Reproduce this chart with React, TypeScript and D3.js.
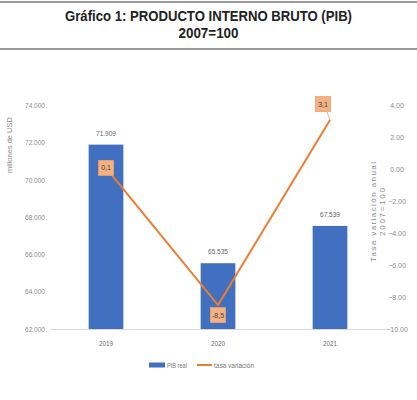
import React from "react";
import * as d3 from "d3";

const years = ["2019", "2020", "2021"];
const pibReal = [71909, 65535, 67539];
const tasaVariacion = [0.1, -8.5, 3.1];
const leftTicks = [62000, 64000, 66000, 68000, 70000, 72000, 74000];
const rightTicks = [-10, -8, -6, -4, -2, 0, 2, 4];
const pibLabels = ["71.909", "65.535", "67.539"];
const tasaLabels = ["0,1", "-8,5", "3,1"];

const W = 417;
const H = 400;
const FONT = "'Liberation Sans Narrow', 'Liberation Sans', Arial, sans-serif";
const BLUE = "#4170c0";
const ORANGE = "#ed7d31";

export default function App() {
  const x = d3.scaleBand<string>().domain(years).range([50, 386]).paddingInner(0.69).paddingOuter(0.345);
  const yL = d3.scaleLinear().domain([62000, 74000]).range([329, 105.7]);
  const yR = d3.scaleLinear().domain([-10, 4]).range([329, 105.7]);
  const fmtL = (v: number) => d3.format(".3f")(v / 1000);
  const fmtR = (v: number) => d3.format(".2f")(v);
  const cx = (y: string) => (x(y) as number) + x.bandwidth() / 2;
  const line = d3
    .line<number>()
    .x((_, i) => cx(years[i]))
    .y((d) => yR(d));

  const tasaLabelDy = [0, 10, -16];
  const tasaLabelDx = [0, 0, -7];

  return (
    <div style={{ position: "fixed", left: 0, top: 0 }}>
      <svg width={W} height={H} style={{ display: "block", background: "#fff" }}>
        <line x1={0} x2={W} y1={2} y2={2} stroke="#9a9a9a" strokeWidth={2} />
        <line x1={0} x2={W} y1={49} y2={49} stroke="#9a9a9a" strokeWidth={2} />
        <text x={W / 2} y={21} textAnchor="middle" fontFamily={FONT} fontWeight="bold" fontSize={14} fill="#222" textLength={287} lengthAdjust="spacingAndGlyphs">
          Gráfico 1: PRODUCTO INTERNO BRUTO (PIB)
        </text>
        <text x={W / 2} y={38} textAnchor="middle" fontFamily={FONT} fontWeight="bold" fontSize={14} fill="#222" textLength={60} lengthAdjust="spacingAndGlyphs">
          2007=100
        </text>

        {leftTicks.map((t) => (
          <text key={t} x={35} y={yL(t) + 2.5} textAnchor="middle" fontFamily={FONT} fontSize={7} fill="#8a8a8a" textLength={20} lengthAdjust="spacingAndGlyphs">
            {fmtL(t)}
          </text>
        ))}
        {rightTicks.map((t) => (
          <text key={t} x={397} y={yR(t) + 2.5} textAnchor="middle" fontFamily={FONT} fontSize={7} fill="#8a8a8a">
            {fmtR(t)}
          </text>
        ))}
        <text
          transform={`translate(12,145) rotate(-90)`}
          textAnchor="middle"
          fontFamily={FONT}
          fontSize={7.5}
          fill="#8a8a8a"
          textLength={56}
          lengthAdjust="spacing"
        >
          millones de USD
        </text>
        <text transform={`translate(376,212) rotate(-90)`} textAnchor="middle" fontFamily={FONT} fontSize={8} fill="#8a8a8a" textLength={100} lengthAdjust="spacing">
          Tasa variación anual
        </text>
        <text transform={`translate(385,212) rotate(-90)`} textAnchor="middle" fontFamily={FONT} fontSize={8} fill="#8a8a8a" textLength={48} lengthAdjust="spacing">
          2007=100
        </text>

        {years.map((y, i) => (
          <rect key={y} x={x(y)} y={yL(pibReal[i])} width={x.bandwidth()} height={yL(62000) - yL(pibReal[i])} fill={BLUE} />
        ))}
        <line x1={50} x2={386} y1={329.5} y2={329.5} stroke="#d9d9d9" strokeWidth={1} />
        {years.map((y, i) => (
          <text key={y} x={cx(y)} y={yL(pibReal[i]) - 9} textAnchor="middle" fontFamily={FONT} fontSize={7} fill="#666" textLength={20} lengthAdjust="spacingAndGlyphs">
            {pibLabels[i]}
          </text>
        ))}
        {years.map((y) => (
          <text key={y} x={cx(y)} y={346} textAnchor="middle" fontFamily={FONT} fontSize={7} fill="#666" textLength={14} lengthAdjust="spacingAndGlyphs">
            {y}
          </text>
        ))}

        <path d={line(tasaVariacion) || ""} fill="none" stroke={ORANGE} strokeWidth={2} />
        <line
          x1={cx(years[2]) - 3}
          y1={yR(tasaVariacion[2]) + tasaLabelDy[2] + 8}
          x2={cx(years[2])}
          y2={yR(tasaVariacion[2])}
          stroke="#aaa"
          strokeWidth={0.8}
        />
        {years.map((y, i) => {
          const px = cx(y) + tasaLabelDx[i];
          const py = yR(tasaVariacion[i]) + tasaLabelDy[i];
          return (
            <g key={y}>
              <rect x={px - 7.5} y={py - 7.5} width={15} height={15} fill="#f4b183" stroke="#f0a06a" strokeWidth={0.8} />
              <text x={px} y={py + 2.5} textAnchor="middle" fontFamily={FONT} fontSize={7} fill="#444">
                {tasaLabels[i]}
              </text>
            </g>
          );
        })}

        <rect x={149} y={362.5} width={16} height={5} fill={BLUE} />
        <text x={167} y={367.5} fontFamily={FONT} fontSize={7} fill="#777" textLength={20} lengthAdjust="spacingAndGlyphs">
          PIB real
        </text>
        <line x1={197} x2={212} y1={365} y2={365} stroke={ORANGE} strokeWidth={2} />
        <text x={214} y={367.5} fontFamily={FONT} fontSize={7} fill="#777" textLength={40} lengthAdjust="spacingAndGlyphs">
          tasa variación
        </text>
      </svg>
    </div>
  );
}
